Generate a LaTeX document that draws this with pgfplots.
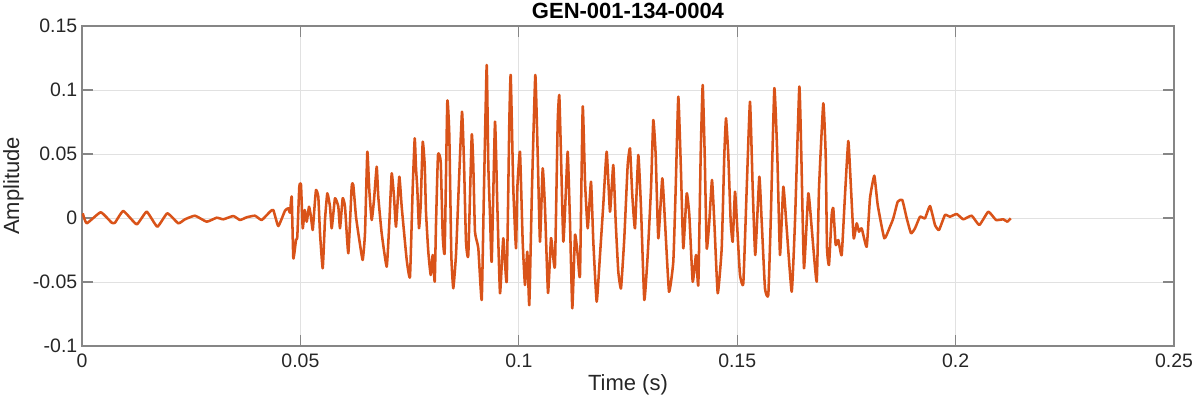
\documentclass[border=0pt]{standalone}
\usepackage{fontspec}
\setmainfont{Liberation Sans}
\usepackage{pgfplots}
\usepackage{pgfplotstable}
\pgfplotsset{compat=1.18}
\definecolor{mlorange}{rgb}{0.851,0.325,0.098}
\definecolor{axgray}{RGB}{134,134,134}
\definecolor{txt}{RGB}{38,38,38}
\definecolor{gridc}{RGB}{225,225,225}
\pgfplotstableread{
t a
0.00016 0.00367
0.00108 -0.00414
0.00428 0.00445
0.00680 -0.00367
0.00756 -0.00367
0.00946 0.00547
0.01252 -0.00492
0.01481 0.00492
0.01724 -0.00680
0.01953 0.00367
0.02205 -0.00414
0.02358 -0.00102
0.02587 0.00180
0.02855 -0.00289
0.03084 0.00023
0.03235 -0.00102
0.03464 0.00156
0.03617 -0.00156
0.03771 0.00055
0.03961 0.00180
0.04114 -0.00156
0.04304 0.00492
0.04380 0.00625
0.04494 -0.00625
0.04647 0.00570
0.04723 0.00758
0.04762 0.00414
0.04801 0.01664
0.04838 -0.03148
0.04899 -0.01719
0.04929 -0.01461
0.04975 0.02445
0.05014 0.02578
0.05053 -0.00805
0.05098 0.00625
0.05144 -0.00289
0.05197 0.00883
0.05236 0.00234
0.05282 -0.00938
0.05318 0.00625
0.05357 0.02188
0.05410 0.01664
0.05449 -0.01195
0.05511 -0.03930
0.05563 -0.00156
0.05616 0.01930
0.05678 0.00883
0.05717 -0.00805
0.05792 0.01539
0.05868 0.00883
0.05907 -0.00805
0.05968 0.01539
0.06021 0.00883
0.06097 -0.02758
0.06174 0.02445
0.06211 0.02578
0.06273 0.00102
0.06349 -0.01719
0.06426 -0.03281
0.06479 -0.01195
0.06532 0.05180
0.06577 0.02188
0.06632 -0.00156
0.06685 0.01406
0.06747 0.04008
0.06783 0.01664
0.06861 -0.01195
0.06976 -0.03805
0.07035 -0.00414
0.07090 0.03492
0.07143 0.01664
0.07189 -0.00680
0.07264 0.03227
0.07319 0.00883
0.07434 -0.03281
0.07509 -0.04586
0.07571 0.02320
0.07617 0.06227
0.07647 0.03883
0.07676 0.02320
0.07715 -0.00805
0.07754 0.01016
0.07800 0.05961
0.07846 0.04141
0.07875 0.00492
0.07928 -0.02633
0.07983 -0.04453
0.08029 -0.02891
0.08075 -0.04977
0.08104 -0.00547
0.08150 0.04922
0.08212 0.04398
0.08258 -0.01328
0.08303 -0.02633
0.08363 0.09086
0.08409 0.06484
0.08455 -0.02891
0.08500 -0.05492
0.08562 -0.02891
0.08624 0.02320
0.08700 0.08305
0.08745 0.04398
0.08791 -0.01852
0.08844 -0.02891
0.08922 0.06484
0.08958 0.04141
0.08997 -0.01070
0.09073 -0.02367
0.09151 -0.06406
0.09203 0.02320
0.09265 0.11953
0.09302 0.04141
0.09341 0.00234
0.09380 -0.03414
0.09455 0.07523
0.09508 0.01016
0.09570 -0.05883
0.09645 -0.01586
0.09723 -0.04977
0.09783 0.07523
0.09815 0.11172
0.09874 0.02320
0.09936 -0.02367
0.09966 0.02320
0.10027 0.05180
0.10089 -0.01852
0.10142 -0.05234
0.10195 -0.02633
0.10240 -0.06797
0.10302 0.02320
0.10378 0.11172
0.10433 0.04922
0.10485 -0.01852
0.10547 0.03883
0.10600 0.00758
0.10669 -0.05859
0.10737 -0.01586
0.10783 -0.02891
0.10829 -0.03672
0.10891 0.07523
0.10927 0.09609
0.10966 0.04922
0.11019 -0.01852
0.11074 0.01797
0.11120 0.05180
0.11172 -0.00289
0.11225 -0.07055
0.11287 -0.01328
0.11349 -0.02891
0.11401 -0.04453
0.11463 0.08695
0.11516 0.02836
0.11578 -0.00805
0.11653 0.02836
0.11706 -0.01852
0.11783 -0.06539
0.11859 -0.02891
0.11934 0.01016
0.12012 0.05180
0.12088 0.00492
0.12163 0.04141
0.12218 -0.00289
0.12278 -0.04195
0.12340 -0.05492
0.12415 -0.01586
0.12493 0.04141
0.12546 0.05445
0.12598 0.01797
0.12660 -0.00805
0.12736 0.04922
0.12798 0.00758
0.12873 -0.06406
0.12951 -0.02891
0.13027 0.02320
0.13079 0.07656
0.13134 0.04922
0.13194 -0.01586
0.13285 0.03102
0.13347 -0.00289
0.13439 -0.05758
0.13537 -0.03414
0.13592 0.02320
0.13652 0.09477
0.13713 0.03617
0.13766 -0.02367
0.13844 0.01930
0.13904 0.00234
0.13981 -0.04977
0.14057 -0.02891
0.14110 -0.05234
0.14164 0.04922
0.14210 0.10391
0.14256 0.04922
0.14302 -0.02367
0.14361 -0.00289
0.14423 0.02969
0.14476 -0.00289
0.14554 -0.05883
0.14645 -0.02367
0.14705 0.04922
0.14744 0.07789
0.14796 0.04922
0.14851 -0.00289
0.14897 -0.01852
0.14950 0.02055
0.15002 -0.00805
0.15064 -0.04453
0.15140 -0.05102
0.15218 0.02320
0.15293 0.09086
0.15355 0.02320
0.15414 -0.02891
0.15506 0.03227
0.15561 -0.00289
0.15636 -0.05492
0.15712 -0.06016
0.15767 -0.00289
0.15850 0.10133
0.15918 0.04922
0.15980 -0.02891
0.16056 0.02445
0.16133 -0.00805
0.16248 -0.05758
0.16323 -0.00289
0.16422 0.10258
0.16468 0.04922
0.16529 -0.03930
0.16628 0.01930
0.16706 -0.00805
0.16820 -0.04977
0.16873 0.02320
0.16971 0.08961
0.17026 0.04922
0.17056 -0.02367
0.17102 -0.03672
0.17163 0.00234
0.17200 0.00758
0.17255 -0.02109
0.17315 -0.01719
0.17392 -0.02891
0.17468 0.01797
0.17544 0.06016
0.17605 0.02320
0.17667 -0.01586
0.17736 -0.00414
0.17788 -0.01070
0.17850 -0.00805
0.17965 -0.02242
0.18040 0.01539
0.18139 0.03305
0.18217 0.01016
0.18368 -0.01586
0.18498 -0.00680
0.18574 -0.00023
0.18675 0.01273
0.18780 0.01406
0.18881 -0.00023
0.18979 -0.01195
0.19071 -0.00805
0.19185 0.00102
0.19299 -0.00023
0.19414 0.00938
0.19529 -0.00547
0.19620 -0.00938
0.19757 0.00234
0.19872 0.00102
0.20025 0.00313
0.20176 -0.00102
0.20369 0.00180
0.20543 -0.00547
0.20749 0.00492
0.20925 -0.00156
0.21092 -0.00102
0.21184 -0.00289
0.21262 -0.00023
}\wave
\begin{document}
\begin{tikzpicture}
\useasboundingbox (-61.5pt,-43.5pt) rectangle (833.25pt,259.5pt);
\begin{axis}[
  at={(0pt,0pt)}, anchor=south west,
  scale only axis, width=819pt, height=240pt,
  xmin=0, xmax=0.25, ymin=-0.1, ymax=0.15,
  xtick={0,0.05,0.1,0.15,0.2,0.25},
  xticklabels={0,0.05,0.1,0.15,0.2,0.25},
  ytick={-0.1,-0.05,0,0.05,0.1,0.15},
  yticklabels={-0.1,-0.05,0,0.05,0.1,0.15},
  tick align=inside, major tick length=8pt,
  grid=major, major grid style={gridc, line width=0.6pt},
  axis line style={axgray, line width=0.8pt},
  tick style={axgray, line width=0.8pt},
  ticklabel style={font=\fontsize{14.6}{17}\selectfont, text=txt},
  xticklabel style={yshift=-2.5pt},
  xlabel={Time (s)}, ylabel={Amplitude},
  label style={font=\fontsize{16.5}{19}\selectfont, text=txt},
  xlabel style={yshift=2pt},
  title={GEN-001-134-0004},
  title style={font=\bfseries\fontsize{16.5}{19}\selectfont, text=black, yshift=-4pt},
]
\addplot[mlorange, line width=1.9pt, line join=round, smooth, tension=0.25] table[x=t, y=a] {\wave};
\end{axis}
\end{tikzpicture}
\end{document}
